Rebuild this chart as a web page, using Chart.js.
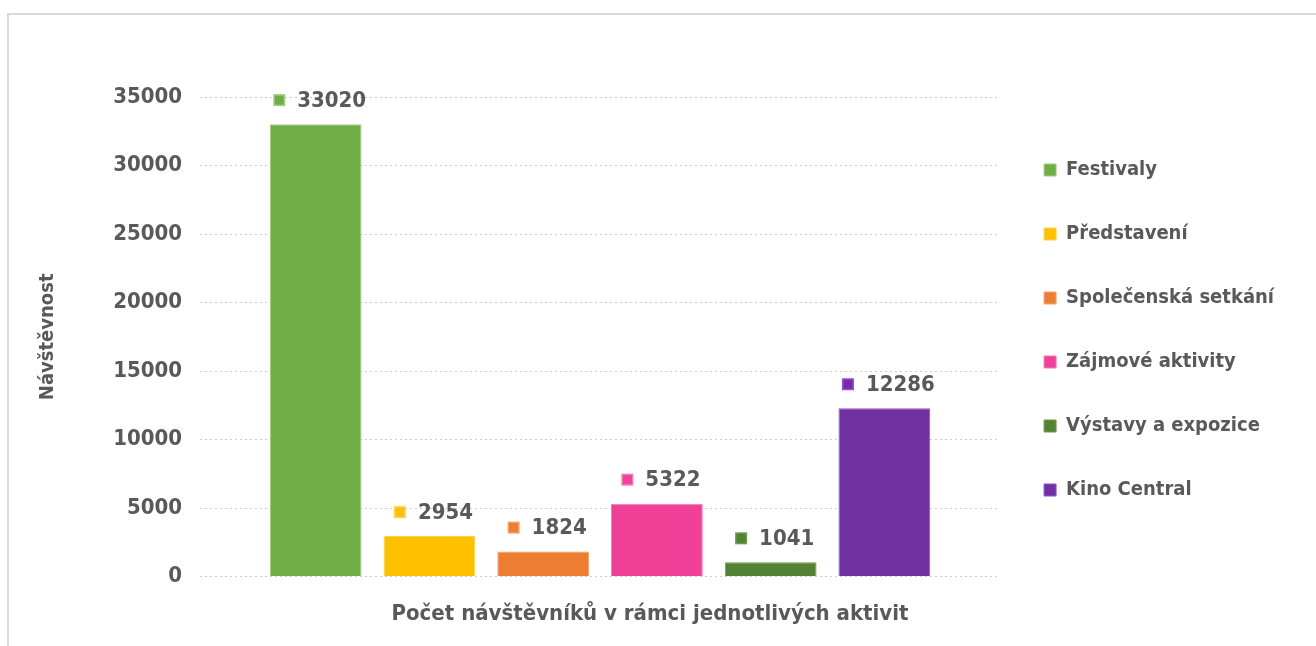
<!DOCTYPE html>
<html>
<head>
<meta charset="utf-8">
<script src="https://cdn.jsdelivr.net/npm/chart.js@4/dist/chart.umd.min.js"></script>
<style>
  body { margin: 0; background: #fff; overflow: hidden; }
  #frame { position: absolute; left: 7px; top: 13px; width: 1320px; height: 650px; border: 2px solid #d9d9d9; }
  #wrap { position: absolute; left: 0; top: 0; width: 1316px; height: 646px; }
</style>
</head>
<body>
<div id="frame"></div>
<div id="wrap"><canvas id="chart" width="1316" height="646"></canvas></div>
<script>
// activities and visitor counts
const activities = ["Festivaly", "Představení", "Společenská setkání", "Zájmové aktivity", "Výstavy a expozice", "Kino Central"];
const visitors = [33020, 2954, 1824, 5322, 1041, 12286];
const fillColors = ["#70ad47", "#ffc000", "#ed7d31", "#ef4197", "#548235", "#7030a0"];
const edgeColors = ["#9fd07f", "#ffd24d", "#f5a26b", "#f57ab9", "#6f9a50", "#9150d8"];

const textColor = "#595959";
const fontFamily = '"DejaVu Sans Condensed", "DejaVu Sans", sans-serif';

const datasets = activities.map((name, i) => ({
  label: name,
  data: [visitors[i]],
  backgroundColor: fillColors[i],
  borderColor: edgeColors[i],
  borderWidth: 1,
  categoryPercentage: 0.853,
  barPercentage: 0.807
}));

// square + value above each bar
const valueLabels = {
  id: "valueLabels",
  afterDatasetsDraw(chart) {
    const ctx = chart.ctx;
    ctx.save();
    ctx.font = "bold 22px " + fontFamily;
    ctx.textBaseline = "middle";
    ctx.textAlign = "left";
    chart.data.datasets.forEach((ds, i) => {
      const bar = chart.getDatasetMeta(i).data[0];
      const text = String(ds.data[0]);
      const tw = ctx.measureText(text).width;
      const sq = 12, gap = 12;
      const x0 = bar.x - (sq + gap + tw) / 2 + 4;
      const y = bar.y - 24;
      ctx.fillStyle = ds.borderColor;
      ctx.fillRect(x0, y - sq / 2, sq, sq);
      ctx.fillStyle = ds.backgroundColor;
      ctx.fillRect(x0 + 1.5, y - sq / 2 + 1.5, sq - 3, sq - 3);
      ctx.fillStyle = textColor;
      ctx.fillText(text, x0 + sq + gap, y + 1);
    });
    ctx.restore();
  }
};

new Chart(document.getElementById("chart"), {
  type: "bar",
  data: { labels: [""], datasets: datasets },
  options: {
    responsive: false,
    animation: false,
    layout: { padding: { left: 16, top: 14, right: 32, bottom: 0 } },
    scales: {
      x: { display: false },
      y: {
        min: 0,
        max: 35000,
        ticks: {
          stepSize: 5000,
          padding: 18,
          color: textColor,
          font: { family: fontFamily, size: 22, weight: "bold" },
          callback: v => String(v)
        },
        grid: { color: "#cccccc", drawTicks: false, lineWidth: 1 },
        border: { display: false, dash: [2, 3] },
        title: {
          display: true,
          text: "Návštěvnost",
          color: textColor,
          padding: { top: 20, bottom: 0 },
          font: { family: fontFamily, size: 20, weight: "bold" }
        },
        afterFit(scale) { scale.width = 184; }
      }
    },
    plugins: {
      legend: {
        position: "right",
        fullSize: true,
        labels: {
          boxWidth: 12,
          boxHeight: 12,
          padding: 44,
          color: textColor,
          font: { family: fontFamily, size: 20, weight: "bold", lineHeight: 0.93 }
        }
      },
      subtitle: {
        display: true,
        position: "top",
        text: "",
        padding: { top: 59, bottom: 0 },
        font: { size: 20, lineHeight: 1.2 }
      },
      title: {
        display: true,
        position: "bottom",
        text: "Počet návštěvníků v rámci jednotlivých aktivit",
        color: textColor,
        padding: { top: 24, bottom: 19 },
        font: { family: fontFamily, size: 22, weight: "bold" }
      },
      tooltip: { enabled: false }
    }
  },
  plugins: [valueLabels]
});
</script>
</body>
</html>
